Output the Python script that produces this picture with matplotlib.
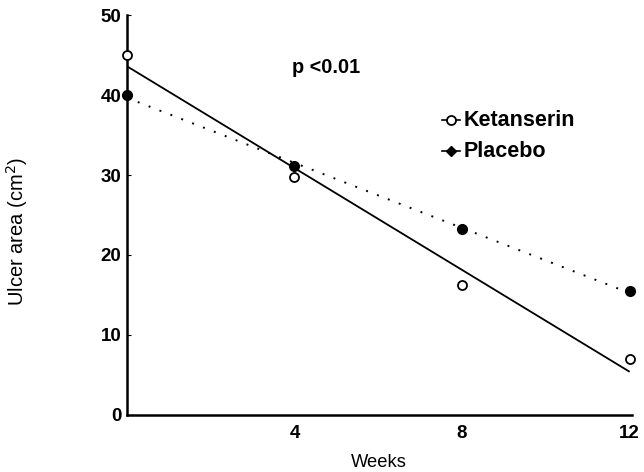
import numpy as np
import matplotlib
matplotlib.use("Agg")
import matplotlib.pyplot as plt

plt.rcParams['font.family'] = ['Liberation Sans', 'DejaVu Sans']

# data
weeks = [0, 4, 8, 12]
ketanserin = [45.0, 29.7, 16.3, 7.0]
placebo = [40.0, 31.1, 23.2, 15.5]

fig = plt.figure(figsize=(6.44, 4.72), dpi=100)
ax = fig.add_axes([0.197, 0.121, 0.784, 0.847])

# regression lines
wk = np.array(weeks)
k_fit = np.polyfit(wk, ketanserin, 1)
p_fit = np.polyfit(wk, placebo, 1)
xl = np.array([0, 12])
ax.plot(xl, np.polyval(k_fit, xl), color='black', lw=1.3, solid_capstyle='butt')
ax.plot(xl, np.polyval(p_fit, xl), color='black', lw=1.4, linestyle=(0, (1, 5)))

# points
ax.plot(weeks, ketanserin, 'o', mfc='white', mec='black', mew=1.3, ms=6.5, clip_on=False, zorder=5)
ax.plot(weeks, placebo, 'o', mfc='black', mec='black', ms=7, clip_on=False, zorder=5)

# legend (hand-built)
ky, py = 0.7375, 0.66
ax.plot([0.624, 0.659], [ky, ky], transform=ax.transAxes, color='black', lw=1.2)
ax.plot([0.642], [ky], 'o', transform=ax.transAxes, mfc='white', mec='black', mew=1.3, ms=6.5)
ax.plot([0.624, 0.659], [py, py], transform=ax.transAxes, color='black', lw=1.2)
ax.plot([0.642], [py], 'D', transform=ax.transAxes, mfc='black', mec='black', ms=5.5)
ax.text(0.667, ky, 'Ketanserin', transform=ax.transAxes, fontsize=15.5, fontweight='bold', va='center')
ax.text(0.667, py, 'Placebo', transform=ax.transAxes, fontsize=15.5, fontweight='bold', va='center')

ax.text(4.75, 43.4, 'p <0.01', fontsize=14.3, fontweight='bold', ha='center', va='center')

ax.set_xlim(0, 12.05)
ax.set_ylim(0, 50)
ax.set_xticks([4, 8, 12])
ax.set_yticks([0, 10, 20, 30, 40, 50])
ax.tick_params(axis='x', length=0, pad=7, labelsize=13.5)
ax.tick_params(axis='y', direction='in', length=3, width=0.8, pad=4, labelsize=13.5)
for lab in ax.get_xticklabels() + ax.get_yticklabels():
    lab.set_fontweight('bold')

for s in ['top', 'right']:
    ax.spines[s].set_visible(False)
for s in ['left', 'bottom']:
    ax.spines[s].set_linewidth(1.8)

ax.set_xlabel('Weeks', fontsize=13.2, labelpad=9)
ax.set_ylabel('Ulcer area (cm$^2$)', fontsize=14.5)
ax.yaxis.set_label_coords(-0.192, 0.46)

fig.savefig('out.png', dpi=100)
